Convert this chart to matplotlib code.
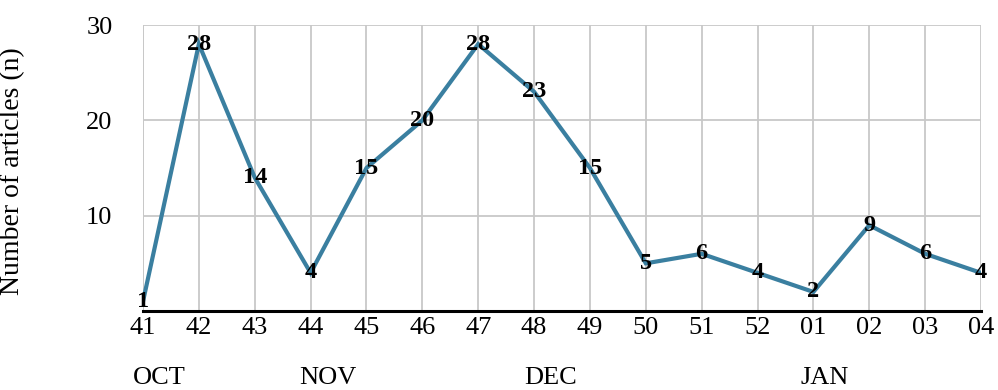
import matplotlib
matplotlib.use("Agg")
import matplotlib.pyplot as plt

weeks = ["41", "42", "43", "44", "45", "46", "47", "48", "49", "50",
         "51", "52", "01", "02", "03", "04"]
articles = [1, 28, 14, 4, 15, 20, 28, 23, 15, 5, 6, 4, 2, 9, 6, 4]
months = ["OCT", "NOV", "DEC", "JAN"]
month_pos = [0.3, 3.3, 7.3, 12.2]
y_ticks = [10, 20, 30]

plt.rcParams["font.family"] = ["Liberation Serif", "DejaVu Serif"]

fig = plt.figure(figsize=(9.98, 3.9), dpi=100)
ax = fig.add_axes([143 / 998, 1 - 311 / 390, (981 - 143) / 998, (311 - 25) / 390])

x = list(range(len(weeks)))
ax.plot(x, articles, color="#3A7FA0", lw=3.0, solid_joinstyle="miter", zorder=3)
for xi, v in zip(x, articles):
    ax.text(xi, v, str(v), ha="center", va="center", fontsize=17.5,
            fontweight="bold", color="black", zorder=4)

ax.set_xlim(0, len(weeks) - 1)
ax.set_ylim(0, 30)
ax.set_xticks(x)
ax.set_xticklabels(weeks, fontsize=19)
ax.set_yticks(y_ticks)
ax.set_yticklabels([str(t) for t in y_ticks], fontsize=19)
ax.tick_params(axis="x", length=0, pad=4)
ax.tick_params(axis="y", length=0, pad=22)

ax.grid(True, color="#c8c8c8", lw=1.3)
ax.set_axisbelow(True)
for s in ["top", "right", "left"]:
    ax.spines[s].set_visible(False)
ax.spines["bottom"].set_color("black")
ax.spines["bottom"].set_linewidth(2.2)
ax.axvline(0, color="#c8c8c8", lw=1.3, zorder=0)

ax.set_ylabel("Number of articles (n)", fontsize=20)
ax.yaxis.set_label_coords(-118 / 838, 0.49)

for m, p in zip(months, month_pos):
    ax.text(p, -7.0, m, ha="center", va="center", fontsize=19, clip_on=False)

fig.savefig("out.png", dpi=100)
